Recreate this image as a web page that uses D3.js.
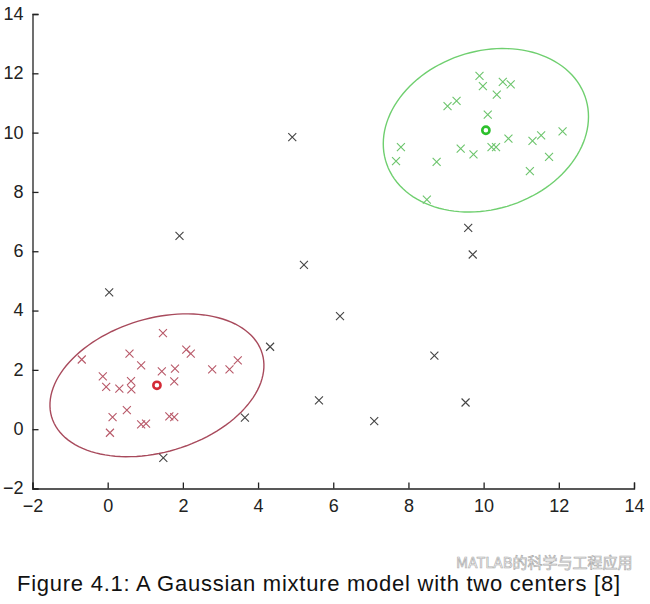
<!DOCTYPE html>
<html><head><meta charset="utf-8">
<script src="https://cdn.jsdelivr.net/npm/d3@7"></script>
<style>body{margin:0;background:#fff}svg{display:block}</style>
</head><body><svg id="c" width="650" height="604"></svg>
<script>
// ---- data ----
const xTicks = [-2,0,2,4,6,8,10,12,14];
const yTicks = [-2,0,2,4,6,8,10,12,14];
const redX = [-0.69,-0.13,-0.04,0.31,0.58,0.62,0.63,0.89,1.47,1.44,1.79,1.77,2.09,2.21,2.78,3.24,3.46,0.13,0.51,0.06,0.89,1.02,1.64,1.77];
const redY = [2.35,1.78,1.43,1.37,2.55,1.62,1.34,2.15,3.24,1.95,2.04,1.61,2.68,2.55,2.02,2.02,2.32,0.41,0.64,-0.12,0.16,0.19,0.43,0.41];
const greenX = [9.89,9.98,10.51,10.72,10.35,9.04,9.28,10.11,7.80,7.67,8.75,9.39,9.73,10.21,10.33,10.66,11.30,11.53,12.10,11.74,11.23,8.49];
const greenY = [11.91,11.57,11.71,11.63,11.28,10.89,11.07,10.61,9.51,9.04,9.01,9.46,9.27,9.51,9.51,9.80,9.72,9.91,10.04,9.18,8.70,7.74];
const grayX = [0.04,1.91,4.91,5.22,6.18,4.32,3.65,1.48,5.62,7.09,8.69,9.52,9.59,9.71];
const grayY = [4.61,6.52,9.85,5.54,3.81,2.78,0.39,-0.97,0.97,0.27,2.48,0.90,6.79,5.89];
const centers = [[1.31,1.48],[10.06,10.08]];
// covariance of each component: [sxx, sxy, syy]
const covs = [[8.1,1.9,5.8],[7.45,1.25,7.6]];
const caption = "Figure 4.1: A Gaussian mixture model with two centers [8]";
const watermark = "MATLAB的科学与工程应用";

// ---- drawing ----
const svg = d3.select("#c");
const x = d3.scaleLinear().domain([-2,14]).range([32.5,634]);
const y = d3.scaleLinear().domain([-2,14]).range([488.5,14]);
const font = "Arial, 'Liberation Sans', sans-serif";

const gx = svg.append("g").attr("transform",`translate(0,${y(-2)})`)
  .call(d3.axisBottom(x).tickValues(xTicks).tickSizeInner(-6).tickSizeOuter(-6).tickPadding(9));
const gy = svg.append("g").attr("transform",`translate(${x(-2)},0)`)
  .call(d3.axisLeft(y).tickValues(yTicks).tickSizeInner(-6).tickSizeOuter(-6).tickPadding(9));
[gx,gy].forEach(g=>{
  g.selectAll("path,line").attr("stroke","#222").attr("stroke-width",1.3);
  g.selectAll("text").attr("font-family",font).attr("font-size",18).attr("fill","#222");
});
gy.selectAll("text").attr("dy","0.3em");
gx.selectAll("text").attr("dy","0.8em");

// ellipses
function ellipsePts(c,cov){
  const [a,b,d]=cov;
  const m=(a+d)/2, r=Math.sqrt(((a-d)/2)**2+b*b);
  const l1=m+r, l2=m-r;
  const phi=0.5*Math.atan2(2*b,a-d);
  const pts=[];
  for(let i=0;i<=120;i++){
    const t=i/120*2*Math.PI;
    const u=Math.sqrt(l1)*Math.cos(t), v=Math.sqrt(l2)*Math.sin(t);
    pts.push([c[0]+u*Math.cos(phi)-v*Math.sin(phi), c[1]+u*Math.sin(phi)+v*Math.cos(phi)]);
  }
  return pts;
}
const line = d3.line().x(d=>x(d[0])).y(d=>y(d[1]));
const ellColors = ["#a84a5c","#6fcf6f"];
centers.forEach((c,i)=>{
  svg.append("path").attr("d",line(ellipsePts(c,covs[i]))).attr("fill","none")
    .attr("stroke",ellColors[i]).attr("stroke-width",1.4);
});

function crosses(xs,ys,color){
  const s=4;
  const g=svg.append("g").attr("stroke",color).attr("stroke-width",1.1);
  xs.forEach((v,i)=>{
    const px=x(v), py=y(ys[i]);
    g.append("path").attr("d",`M${px-s},${py-s}L${px+s},${py+s}M${px-s},${py+s}L${px+s},${py-s}`);
  });
}
crosses(grayX,grayY,"#444");
crosses(redX,redY,"#b85868");
crosses(greenX,greenY,"#6cc46c");

const cColors=["#d42a36","#2cc02c"];
centers.forEach((c,i)=>{
  svg.append("circle").attr("cx",x(c[0])).attr("cy",y(c[1])).attr("r",3.6)
    .attr("fill","none").attr("stroke",cColors[i]).attr("stroke-width",2.6);
});

svg.append("text").attr("x",17).attr("y",591).attr("font-family",font).attr("font-size",22)
  .attr("fill","#111").attr("textLength",603).attr("lengthAdjust","spacing").text(caption);
svg.append("text").attr("x",456).attr("y",568).attr("font-family","'Noto Sans CJK SC', sans-serif")
  .attr("font-size",15).attr("fill","#fff").attr("stroke","#999").attr("stroke-width",0.7)
  .attr("opacity",0.8).text(watermark);
</script></body></html>
